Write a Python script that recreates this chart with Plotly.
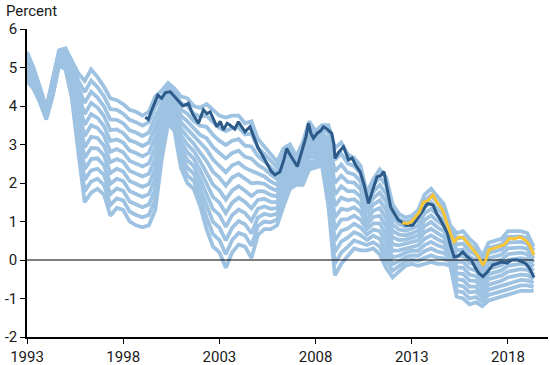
import plotly.graph_objects as go

# sample dates for the light-blue family (every 4 months, 1993.0 .. 2019.33)
years = [1993 + k / 3 for k in range(80)]

light_01 = [5.40,5.00,4.50,3.95,4.70,5.45,5.50,5.15,4.85,4.65,4.95,4.75,4.50,4.20,4.15,4.05,3.90,3.85,3.75,3.85,4.25,4.40,4.60,4.45,4.25,4.20,4.00,3.95,4.05,3.90,3.75,3.70,3.75,3.75,3.55,3.60,3.15,2.95,2.75,2.55,2.90,3.00,2.70,3.05,3.60,3.35,3.50,3.50,2.90,3.05,2.75,2.65,2.45,1.75,2.10,2.35,2.15,1.45,1.20,1.10,1.15,1.30,1.70,1.85,1.65,1.45,0.90,0.70,0.75,0.55,0.40,0.10,0.45,0.50,0.55,0.75,0.75,0.75,0.70,0.35]
light_02 = [5.33,4.95,4.46,3.92,4.66,5.41,5.45,5.06,4.66,4.36,4.66,4.49,4.25,3.92,3.90,3.80,3.64,3.58,3.49,3.58,3.98,4.24,4.50,4.35,4.08,4.00,3.80,3.72,3.75,3.58,3.43,3.35,3.43,3.45,3.26,3.28,2.92,2.76,2.57,2.40,2.76,2.90,2.63,2.95,3.49,3.26,3.40,3.31,2.60,2.76,2.51,2.44,2.25,1.61,1.94,2.15,1.94,1.28,1.06,0.99,1.04,1.17,1.54,1.68,1.49,1.31,0.80,0.55,0.59,0.40,0.26,-0.02,0.31,0.36,0.41,0.60,0.61,0.61,0.56,0.25]
light_03 = [5.26,4.90,4.43,3.90,4.62,5.38,5.40,4.98,4.48,4.08,4.37,4.22,3.99,3.65,3.64,3.55,3.37,3.31,3.22,3.31,3.71,4.07,4.41,4.25,3.91,3.80,3.61,3.49,3.46,3.25,3.10,2.99,3.10,3.14,2.97,2.95,2.70,2.56,2.40,2.25,2.63,2.79,2.56,2.85,3.37,3.18,3.31,3.12,2.30,2.48,2.27,2.22,2.05,1.48,1.77,1.95,1.72,1.10,0.93,0.87,0.92,1.04,1.37,1.50,1.33,1.17,0.71,0.40,0.43,0.24,0.13,-0.14,0.18,0.23,0.28,0.45,0.46,0.47,0.43,0.14]
light_04 = [5.20,4.85,4.39,3.87,4.58,5.34,5.35,4.89,4.29,3.79,4.08,3.96,3.74,3.37,3.39,3.30,3.11,3.05,2.96,3.05,3.45,3.91,4.31,4.15,3.75,3.60,3.41,3.25,3.16,2.93,2.78,2.64,2.78,2.84,2.68,2.63,2.47,2.37,2.22,2.10,2.49,2.69,2.50,2.75,3.26,3.09,3.21,2.93,2.00,2.19,2.03,2.01,1.85,1.34,1.61,1.75,1.51,0.93,0.79,0.76,0.81,0.90,1.21,1.33,1.17,1.03,0.61,0.25,0.27,0.09,-0.01,-0.25,0.04,0.09,0.14,0.30,0.32,0.33,0.29,0.04]
light_05 = [5.13,4.80,4.35,3.84,4.54,5.30,5.30,4.80,4.10,3.51,3.79,3.69,3.48,3.09,3.13,3.05,2.84,2.78,2.69,2.78,3.18,3.74,4.22,4.05,3.58,3.40,3.22,3.02,2.87,2.61,2.46,2.28,2.46,2.53,2.39,2.31,2.24,2.17,2.04,1.95,2.36,2.58,2.43,2.65,3.14,3.00,3.12,2.74,1.70,1.91,1.79,1.79,1.65,1.21,1.44,1.55,1.29,0.76,0.66,0.64,0.69,0.77,1.04,1.16,1.01,0.89,0.52,0.10,0.11,-0.07,-0.14,-0.37,-0.09,-0.04,0.01,0.15,0.17,0.19,0.15,-0.07]
light_06 = [5.06,4.75,4.32,3.81,4.50,5.27,5.25,4.72,3.92,3.22,3.50,3.43,3.23,2.81,2.88,2.80,2.58,2.51,2.43,2.51,2.91,3.58,4.12,3.95,3.41,3.20,3.02,2.79,2.57,2.29,2.14,1.93,2.14,2.23,2.10,1.99,2.01,1.98,1.87,1.80,2.22,2.48,2.36,2.55,3.03,2.92,3.02,2.55,1.40,1.62,1.55,1.58,1.45,1.07,1.28,1.35,1.08,0.59,0.52,0.53,0.58,0.64,0.88,0.99,0.85,0.75,0.42,-0.05,-0.05,-0.22,-0.28,-0.49,-0.23,-0.18,-0.13,0.00,0.03,0.05,0.02,-0.17]
light_07 = [4.99,4.70,4.28,3.79,4.45,5.23,5.20,4.63,3.73,2.93,3.20,3.17,2.97,2.54,2.62,2.55,2.32,2.24,2.17,2.24,2.64,3.42,4.03,3.85,3.24,3.00,2.83,2.56,2.28,1.96,1.81,1.57,1.81,1.92,1.80,1.66,1.79,1.78,1.69,1.65,2.08,2.37,2.29,2.45,2.92,2.83,2.93,2.35,1.10,1.33,1.30,1.37,1.25,0.93,1.12,1.15,0.87,0.41,0.38,0.42,0.47,0.51,0.72,0.81,0.70,0.60,0.33,-0.20,-0.20,-0.38,-0.42,-0.61,-0.37,-0.32,-0.27,-0.15,-0.12,-0.10,-0.12,-0.28]
light_08 = [4.92,4.65,4.25,3.76,4.41,5.20,5.15,4.55,3.55,2.65,2.91,2.90,2.72,2.26,2.37,2.30,2.05,1.97,1.90,1.97,2.37,3.25,3.93,3.75,3.07,2.80,2.63,2.33,1.98,1.64,1.49,1.22,1.49,1.62,1.51,1.34,1.56,1.59,1.51,1.50,1.95,2.27,2.22,2.35,2.80,2.75,2.83,2.16,0.80,1.05,1.06,1.15,1.05,0.80,0.95,0.95,0.65,0.24,0.25,0.30,0.35,0.38,0.55,0.64,0.54,0.46,0.23,-0.35,-0.36,-0.53,-0.55,-0.73,-0.50,-0.45,-0.40,-0.30,-0.27,-0.24,-0.25,-0.38]
light_09 = [4.86,4.60,4.21,3.73,4.37,5.16,5.10,4.46,3.36,2.36,2.62,2.64,2.46,1.98,2.11,2.05,1.79,1.71,1.64,1.71,2.11,3.09,3.84,3.65,2.90,2.60,2.44,2.09,1.69,1.32,1.17,0.86,1.17,1.31,1.22,1.02,1.33,1.39,1.33,1.35,1.81,2.16,2.16,2.25,2.69,2.66,2.74,1.97,0.50,0.76,0.82,0.94,0.85,0.66,0.79,0.75,0.44,0.07,0.11,0.19,0.24,0.24,0.39,0.47,0.38,0.32,0.14,-0.50,-0.52,-0.69,-0.69,-0.85,-0.64,-0.59,-0.54,-0.45,-0.41,-0.38,-0.39,-0.49]
light_10 = [4.79,4.55,4.17,3.70,4.33,5.12,5.05,4.37,3.17,2.08,2.33,2.37,2.21,1.71,1.86,1.80,1.52,1.44,1.37,1.44,1.84,2.93,3.74,3.55,2.74,2.40,2.24,1.86,1.39,0.99,0.84,0.51,0.84,1.01,0.93,0.69,1.10,1.20,1.16,1.20,1.67,2.06,2.09,2.15,2.57,2.57,2.64,1.78,0.20,0.48,0.58,0.72,0.65,0.52,0.63,0.55,0.22,-0.11,-0.03,0.07,0.12,0.11,0.23,0.30,0.22,0.18,0.04,-0.65,-0.68,-0.84,-0.82,-0.96,-0.77,-0.72,-0.67,-0.60,-0.56,-0.52,-0.53,-0.59]
light_11 = [4.72,4.50,4.14,3.68,4.29,5.09,5.00,4.29,2.99,1.79,2.04,2.11,1.95,1.43,1.60,1.55,1.26,1.17,1.11,1.17,1.57,2.76,3.65,3.45,2.57,2.20,2.05,1.63,1.10,0.67,0.52,0.15,0.52,0.70,0.64,0.37,0.88,1.00,0.98,1.05,1.54,1.95,2.02,2.05,2.46,2.49,2.55,1.59,-0.10,0.19,0.34,0.51,0.45,0.39,0.46,0.35,0.01,-0.28,-0.16,-0.04,0.01,-0.02,0.06,0.12,0.06,0.04,-0.05,-0.80,-0.84,-1.00,-0.96,-1.08,-0.91,-0.86,-0.81,-0.75,-0.70,-0.66,-0.66,-0.70]
light_12 = [4.65,4.45,4.10,3.65,4.25,5.05,4.95,4.20,2.80,1.50,1.75,1.85,1.70,1.15,1.35,1.30,1.00,0.90,0.85,0.90,1.30,2.60,3.55,3.35,2.40,2.00,1.85,1.40,0.80,0.35,0.20,-0.20,0.20,0.40,0.35,0.05,0.65,0.80,0.80,0.90,1.40,1.85,1.95,1.95,2.35,2.40,2.45,1.40,-0.40,-0.10,0.10,0.30,0.25,0.25,0.30,0.15,-0.20,-0.45,-0.30,-0.15,-0.10,-0.15,-0.10,-0.05,-0.10,-0.10,-0.15,-0.95,-1.00,-1.15,-1.10,-1.20,-1.05,-1.00,-0.95,-0.90,-0.85,-0.80,-0.80,-0.80]

dark_x = [1999.15,1999.3,1999.45,1999.6,1999.8,2000.0,2000.2,2000.45,2000.65,2000.9,2001.1,2001.39,2001.6,2001.91,2002.17,2002.35,2002.52,2002.87,2003.05,2003.21,2003.4,2003.56,2003.8,2003.99,2004.15,2004.33,2004.59,2004.8,2005.02,2005.28,2005.5,2005.7,2005.89,2006.15,2006.35,2006.5,2006.65,2006.84,2007.05,2007.3,2007.5,2007.63,2007.75,2007.89,2008.1,2008.25,2008.41,2008.6,2008.84,2008.95,2009.01,2009.2,2009.45,2009.6,2009.71,2009.9,2010.1,2010.32,2010.55,2010.75,2010.95,2011.19,2011.4,2011.55,2011.7,2011.9,2012.1,2012.3,2012.5,2012.7,2013.05,2013.2,2013.35,2013.6,2013.8,2014.1,2014.3,2014.5,2014.7,2014.85,2015.0,2015.2,2015.4,2015.65,2015.85,2016.1,2016.3,2016.5,2016.7,2016.95,2017.2,2017.45,2017.7,2017.95,2018.2,2018.5,2018.7,2018.9,2019.1,2019.35]
dark_y = [3.71,3.65,3.85,4.05,4.28,4.2,4.35,4.37,4.25,4.1,4.0,4.07,3.8,3.55,3.9,3.8,3.85,3.46,3.6,3.38,3.55,3.5,3.4,3.59,3.45,3.33,3.46,3.2,2.9,2.68,2.5,2.3,2.21,2.29,2.6,2.9,2.75,2.6,2.43,2.85,3.2,3.55,3.3,3.16,3.3,3.35,3.46,3.4,3.29,3.0,2.64,2.8,2.94,2.75,2.6,2.65,2.45,2.29,1.9,1.47,1.8,2.16,2.2,2.3,1.9,1.38,1.2,1.04,0.98,0.9,0.9,1.0,1.12,1.3,1.47,1.43,1.2,1.04,0.85,0.7,0.4,0.08,0.1,0.21,0.1,0.0,-0.2,-0.35,-0.43,-0.3,-0.13,-0.1,-0.05,-0.08,0.0,0.0,-0.05,-0.08,-0.2,-0.45]

yellow_x = [2012.5,2012.8,2013.0,2013.2,2013.4,2013.6,2013.85,2014.1,2014.3,2014.6,2014.8,2015.0,2015.2,2015.45,2015.7,2015.95,2016.2,2016.45,2016.7,2016.85,2017.0,2017.25,2017.5,2017.8,2018.1,2018.35,2018.6,2018.9,2019.1,2019.35]
yellow_y = [0.96,0.95,1.0,1.12,1.25,1.5,1.55,1.69,1.5,1.3,1.0,0.7,0.47,0.6,0.57,0.4,0.26,0.1,-0.13,0.0,0.26,0.3,0.34,0.4,0.57,0.55,0.6,0.52,0.4,0.13]

x_ticks = [1993, 1998, 2003, 2008, 2013, 2018]
y_ticks = [-2, -1, 0, 1, 2, 3, 4, 5, 6]

LIGHT = "#9ec2e2"
DARK = "#2c5b8a"
YELLOW = "#f6c437"

light_lines = [light_01, light_02, light_03, light_04, light_05, light_06,
               light_07, light_08, light_09, light_10, light_11, light_12]
for ln in light_lines:
    assert len(ln) == len(years), len(ln)
assert len(dark_x) == len(dark_y)
assert len(yellow_x) == len(yellow_y)

fig = go.Figure()
for ln in reversed(light_lines):
    fig.add_trace(go.Scatter(x=years, y=ln, mode="lines",
                             line=dict(color=LIGHT, width=3.8),
                             hoverinfo="skip", showlegend=False))

# zero reference line
fig.add_trace(go.Scatter(x=[1993, dark_x[-1]], y=[0, 0], mode="lines",
                         line=dict(color="black", width=1.2),
                         hoverinfo="skip", showlegend=False))

fig.add_trace(go.Scatter(x=dark_x, y=dark_y, mode="lines",
                         line=dict(color=DARK, width=3),
                         showlegend=False))
fig.add_trace(go.Scatter(x=yellow_x, y=yellow_y, mode="lines",
                         line=dict(color=YELLOW, width=3),
                         showlegend=False))

FONT = "Roboto, Arial, sans-serif"
fig.update_layout(
    width=550, height=365,
    margin=dict(l=27, r=2, t=29, b=28, autoexpand=False),
    paper_bgcolor="white", plot_bgcolor="white",
    font=dict(family=FONT, size=15, color="#1a1a1a"),
    showlegend=False,
    xaxis=dict(range=[1993, 2020.08], tickvals=x_ticks,
               ticktext=[str(v) for v in x_ticks],
               showgrid=False, zeroline=False, automargin=False,
               showline=True, linecolor="black", linewidth=1.5,
               ticks="outside", ticklen=5, tickwidth=1.2, tickcolor="black",
               tickfont=dict(size=15)),
    yaxis=dict(range=[-2, 6], tickvals=y_ticks,
               ticktext=[str(v) for v in y_ticks],
               showgrid=False, zeroline=False, automargin=False,
               showline=True, linecolor="black", linewidth=1.5,
               ticks="outside", ticklen=5, tickwidth=1.2, tickcolor="black",
               tickfont=dict(size=15)),
    annotations=[dict(text="Percent", xref="paper", yref="paper",
                      x=-0.044, y=1.058, xanchor="left", yanchor="middle",
                      showarrow=False, font=dict(size=15, color="#1a1a1a"))],
)

fig.write_html("out.html", config={"displayModeBar": False},
               post_script="document.body.style.margin='0';document.body.style.padding='0';")
